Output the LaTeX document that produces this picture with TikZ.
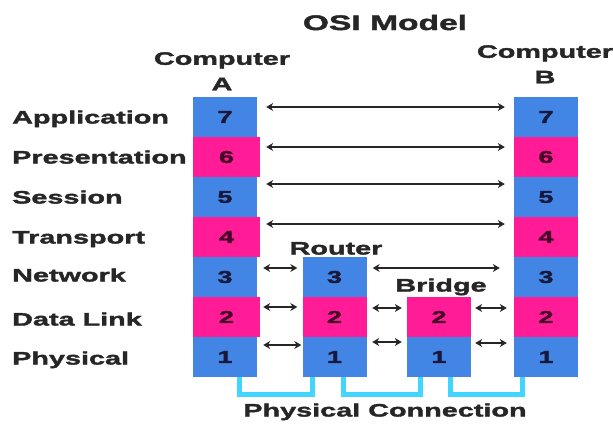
\documentclass[tikz,border=0pt]{standalone}
\usepackage{fontspec}
\newfontfamily\osifont[FakeStretch=1.6, FakeBold=2]{Liberation Sans Bold}
\usetikzlibrary{arrows.meta}
\definecolor{osiblue}{RGB}{66,133,228}
\definecolor{osipink}{RGB}{255,28,150}
\definecolor{osicyan}{RGB}{64,214,255}
\definecolor{digitnavy}{RGB}{24,24,60}
\definecolor{digitplum}{RGB}{70,8,40}
\tikzstyle{bluelayer} = [rectangle, minimum width=64pt, minimum height=40pt, inner sep=0pt, fill=osiblue, text=digitnavy, font=\osifont\fontsize{17}{17}\selectfont]
\tikzstyle{pinklayer} = [bluelayer, fill=osipink, text=digitplum]
\tikzstyle{layername} = [inner sep=0pt, text height=13pt, text depth=0pt, text=black!85, font=\osifont\fontsize{18}{18}\selectfont]
\tikzstyle{computer} = [inner sep=0pt, align=center, anchor=north, text=black!85, font=\osifont\fontsize{18}{25.5}\selectfont]
\tikzstyle{osititle} = [inner sep=0pt, text height=15pt, text depth=0pt, text=black!85, font=\osifont\fontsize{21}{21}\selectfont]
\tikzstyle{link} = [line width=1.9pt, {Stealth[length=7pt, width=8pt]}-{Stealth[length=7pt, width=8pt]}, black!85]
\tikzstyle{phys} = [line width=5pt, osicyan]

\begin{document}
\begin{tikzpicture}[x=1pt, y=1pt, node distance=40pt]
	\useasboundingbox (0,0) rectangle (613,-423);

	\node (title) [osititle] at (385,-22.5) {OSI Model};
	\node (compa) [computer] at (222,-52) {Computer\\A};
	\node (compb) [computer] at (545,-45) {Computer\\B};

	\node (a7) [bluelayer] at (225,-117) {7};
	\node (a6) [pinklayer, below of=a7, minimum width=67pt, xshift=1.5pt] {6};
	\node (a5) [bluelayer, below of=a6, xshift=-1.5pt] {5};
	\node (a4) [pinklayer, below of=a5, minimum width=67pt, xshift=1.5pt] {4};
	\node (a3) [bluelayer, below of=a4, xshift=-1.5pt] {3};
	\node (a2) [pinklayer, below of=a3, minimum width=67pt, xshift=1.5pt] {2};
	\node (a1) [bluelayer, below of=a2, xshift=-1.5pt] {1};

	\node (b7) [bluelayer] at (546,-117) {7};
	\node (b6) [pinklayer, below of=b7] {6};
	\node (b5) [bluelayer, below of=b6] {5};
	\node (b4) [pinklayer, below of=b5] {4};
	\node (b3) [bluelayer, below of=b4] {3};
	\node (b2) [pinklayer, below of=b3] {2};
	\node (b1) [bluelayer, below of=b2] {1};

	\node (r3) [bluelayer] at (334.5,-277) {3};
	\node (r2) [pinklayer, below of=r3] {2};
	\node (r1) [bluelayer, below of=r2] {1};

	\node (br2) [pinklayer] at (439,-317) {2};
	\node (br1) [bluelayer, below of=br2] {1};

	\node (appl) [layername, anchor=west] at (12,-117) {Application};
	\node (pres) [layername, anchor=west] at (12,-157) {Presentation};
	\node (sess) [layername, anchor=west] at (12,-197) {Session};
	\node (trans) [layername, anchor=west] at (12,-237) {Transport};
	\node (netw) [layername, anchor=west] at (12,-275) {Network};
	\node (dlink) [layername, anchor=west] at (12,-319) {Data Link};
	\node (phy) [layername, anchor=west] at (12,-358) {Physical};

	\node (router) [layername] at (336,-248) {Router};
	\node (bridge) [layername] at (441,-285) {Bridge};
	\node (physcon) [layername] at (385,-410) {Physical Connection};

	\draw [link, shorten <=9pt, shorten >=9pt] ([yshift=10pt]a7.east) -- ([yshift=10pt]b7.west);
	\draw [link, shorten <=6pt, shorten >=9pt] ([yshift=10pt]a6.east) -- ([yshift=10pt]b6.west);
	\draw [link, shorten <=9pt, shorten >=9pt] ([yshift=13pt]a5.east) -- ([yshift=13pt]b5.west);
	\draw [link, shorten <=6pt, shorten >=9pt] ([yshift=13pt]a4.east) -- ([yshift=13pt]b4.west);

	\draw [link, shorten <=6pt, shorten >=5pt] ([yshift=9pt]a3.east) -- ([yshift=9pt]r3.west);
	\draw [link, shorten <=6pt, shorten >=14pt] ([yshift=9pt]r3.east) -- ([yshift=9pt]b3.west);

	\draw [link, shorten <=3pt, shorten >=5pt] ([yshift=10pt]a2.east) -- ([yshift=10pt]r2.west);
	\draw [link, shorten <=5.5pt, shorten >=5pt] ([yshift=9pt]r2.east) -- ([yshift=9pt]br2.west);
	\draw [link, shorten <=4pt, shorten >=7pt] ([yshift=9pt]br2.east) -- ([yshift=9pt]b2.west);

	\draw [link, shorten <=6pt, shorten >=1pt] ([yshift=12pt]a1.east) -- ([yshift=12pt]r1.west);
	\draw [link, shorten <=5.5pt, shorten >=5pt] ([yshift=15pt]r1.east) -- ([yshift=15pt]br1.west);
	\draw [link, shorten <=4pt, shorten >=7pt] ([yshift=14pt]br1.east) -- ([yshift=14pt]b1.west);

	\draw [phys] ([xshift=14pt]a1.south) -- ++(0,-17.5) -| ([xshift=-22.5pt]r1.south);
	\draw [phys] ([xshift=8.5pt]r1.south) -- ++(0,-17.5) -| ([xshift=-19pt]br1.south);
	\draw [phys] ([xshift=11pt]br1.south) -- ++(0,-17.5) -| ([xshift=-24pt]b1.south);
\end{tikzpicture}
\end{document}
